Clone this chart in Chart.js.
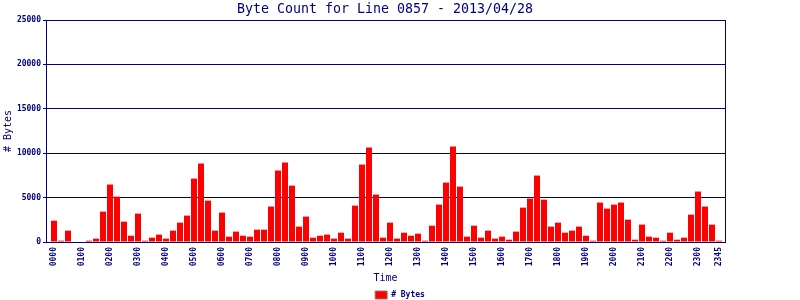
<!DOCTYPE html>
<html>
<head>
<meta charset="utf-8">
<script src="https://cdn.jsdelivr.net/npm/chart.js@4"></script>
<style>
  html, body { margin: 0; padding: 0; background: #fff; }
  #wrap { width: 800px; height: 300px; position: relative; }
</style>
</head>
<body>
<div id="wrap"><canvas id="byteChart"></canvas></div>
<script>
// 15-minute slots for the day
const times = [
  "0000", "0015", "0030", "0045", "0100", "0115", "0130", "0145",
  "0200", "0215", "0230", "0245", "0300", "0315", "0330", "0345",
  "0400", "0415", "0430", "0445", "0500", "0515", "0530", "0545",
  "0600", "0615", "0630", "0645", "0700", "0715", "0730", "0745",
  "0800", "0815", "0830", "0845", "0900", "0915", "0930", "0945",
  "1000", "1015", "1030", "1045", "1100", "1115", "1130", "1145",
  "1200", "1215", "1230", "1245", "1300", "1315", "1330", "1345",
  "1400", "1415", "1430", "1445", "1500", "1515", "1530", "1545",
  "1600", "1615", "1630", "1645", "1700", "1715", "1730", "1745",
  "1800", "1815", "1830", "1845", "1900", "1915", "1930", "1945",
  "2000", "2015", "2030", "2045", "2100", "2115", "2130", "2145",
  "2200", "2215", "2230", "2245", "2300", "2315", "2330", "2345",
];

const bytes = [
  2400, 150, 1280, 0, 0, 150, 380, 3420,
  6470, 5110, 2290, 710, 3200, 150, 490, 830,
  380, 1280, 2180, 2970, 7140, 8840, 4660, 1280,
  3310, 600, 1170, 710, 600, 1390, 1390, 3990,
  8050, 8950, 6350, 1730, 2860, 490, 710, 830,
  380, 1050, 380, 4100, 8720, 10640, 5340, 490,
  2180, 380, 1050, 710, 940, 150, 1840, 4210,
  6690, 10750, 6240, 600, 1840, 490, 1280, 380,
  600, 260, 1170, 3870, 4890, 7480, 4770, 1730,
  2180, 1050, 1280, 1730, 710, 150, 4440, 3760,
  4210, 4440, 2520, 260, 1960, 600, 490, 150,
  1050, 260, 490, 3080, 5680, 3990, 1960, 150,
];

// only these slots get a label on the x axis
const tickLabels = [
  "0000", "0100", "0200", "0300", "0400", "0500", "0600", "0700",
  "0800", "0900", "1000", "1100", "1200", "1300", "1400", "1500",
  "1600", "1700", "1800", "1900", "2000", "2100", "2200", "2300", "2345",
];

const chartTitle = "Byte Count for Line 0857 - 2013/04/28";

const navy = "#000080";
const mono = "'DejaVu Sans Mono', monospace";

// category scale with a little extra room before the first bar
class PaddedCategoryScale extends Chart.CategoryScale {
  buildTicks() {
    const ticks = super.buildTicks();
    this._startValue -= 0.643;
    this._valueRange += 1.0;
    return ticks;
  }
}
PaddedCategoryScale.id = "paddedCategory";
PaddedCategoryScale.defaults = {};
Chart.register(PaddedCategoryScale);

// title sits a bit left of the canvas centre in the original
const titlePlugin = {
  id: "plainTitle",
  afterDraw(chart) {
    const c = chart.ctx;
    c.save();
    c.font = "13.3px " + mono;
    c.fillStyle = navy;
    c.textAlign = "center";
    c.textBaseline = "alphabetic";
    c.fillText(chartTitle, 385, 13);
    c.restore();
  },
};

const ctx = document.getElementById("byteChart").getContext("2d");
const byteChart = new Chart(ctx, {
  type: "bar",
  data: {
    labels: times,
    datasets: [
      {
        label: "# Bytes",
        data: bytes,
        backgroundColor: "#ff0000",
        borderWidth: 0,
        categoryPercentage: 1,
        barPercentage: 0.86,
      },
    ],
  },
  plugins: [titlePlugin],
  options: {
    responsive: true,
    maintainAspectRatio: false,
    animation: false,
    devicePixelRatio: 1,
    layout: {
      padding: { left: 0, right: 0, top: 20, bottom: -9 },
    },
    plugins: {
      title: { display: false },
      legend: {
        position: "bottom",
        labels: {
          color: navy,
          font: { family: mono, size: 8, weight: "bold" },
          boxWidth: 12,
          boxHeight: 8,
          padding: 2,
          generateLabels(chart) {
            const items = Chart.defaults.plugins.legend.labels.generateLabels(chart);
            items.forEach((item) => {
              item.strokeStyle = "#808080";
              item.lineWidth = 1;
            });
            return items;
          },
        },
      },
      tooltip: { enabled: false },
    },
    scales: {
      x: {
        type: "paddedCategory",
        offset: true,
        ticks: {
          autoSkip: false,
          maxRotation: 90,
          minRotation: 90,
          padding: 5,
          color: navy,
          font: { family: mono, size: 8, weight: "bold" },
          callback(value) {
            const t = times[value];
            return tickLabels.includes(t) ? t : "";
          },
        },
        grid: { display: false, drawTicks: false },
        border: { color: navy, width: 1 },
        title: {
          display: true,
          text: "Time",
          color: navy,
          font: { family: mono, size: 10 },
          padding: { top: 0, bottom: 5 },
        },
        afterFit(scale) {
          scale.height = 47;
        },
      },
      y: {
        min: 0,
        max: 25000,
        ticks: {
          stepSize: 5000,
          padding: 2,
          color: navy,
          font: { family: mono, size: 8, weight: "bold" },
          callback: (value) => String(value),
        },
        grid: { color: navy, lineWidth: 1, drawTicks: true, tickLength: 3 },
        border: { color: navy, width: 1 },
        title: {
          display: true,
          text: "# Bytes",
          color: navy,
          font: { family: mono, size: 10 },
          padding: { top: 2, bottom: 0 },
        },
        afterFit(scale) {
          scale.width = 46;
        },
      },
      y2: {
        position: "right",
        ticks: { display: false },
        grid: { display: false, drawTicks: false },
        border: { color: navy, width: 1 },
        afterFit(scale) {
          scale.width = 75;
        },
      },
    },
  },
});
</script>
</body>
</html>
